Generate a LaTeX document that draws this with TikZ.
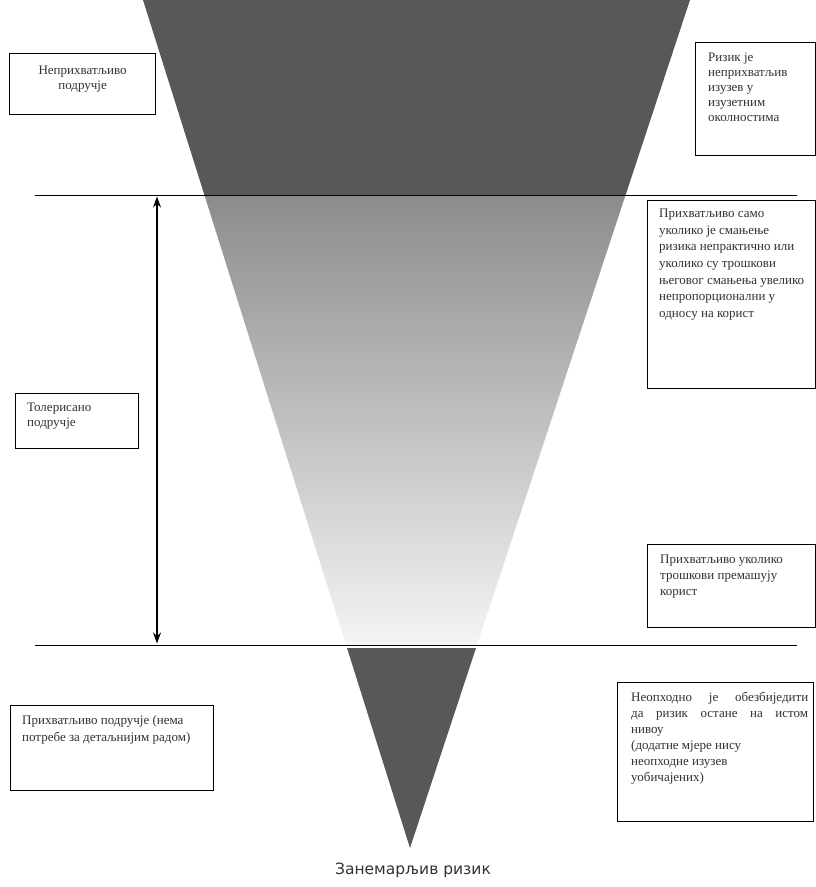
\documentclass[tikz,border=0pt]{standalone}
\usepackage{fontspec}
\setmainfont{Liberation Serif}
\newfontfamily\labelfont{DejaVu Sans}
\usetikzlibrary{arrows.meta,calc}
\definecolor{darkzone}{RGB}{88,88,88}
\definecolor{midtop}{RGB}{140,140,140}
\definecolor{midbot}{RGB}{244,244,244}
\definecolor{txtgray}{RGB}{50,50,50}
\tikzset{
  box/.style={draw=black, line width=1.2pt, fill=white, inner sep=0pt, anchor=north west},
  txt/.style={text=txtgray, font=\fontsize{13}{16}\selectfont, align=left, inner sep=0pt, anchor=north west},
  txtc/.style={text=txtgray, font=\fontsize{13}{15}\selectfont, align=center, inner sep=0pt, anchor=north},
  level/.style={draw=black, line width=1pt},
  dim/.style={draw=black, line width=1.2pt, {Stealth[length=11pt,width=8pt]}-{Stealth[length=11pt,width=8pt]}}
}
\begin{document}
\begin{tikzpicture}[x=1pt,y=-1pt]
\useasboundingbox (0,0) rectangle (816,887);
% zones of the inverted triangle
\fill[darkzone] (143,0) -- (690,0) -- (625.6,195) -- (204.4,195) -- cycle;
\shade[top color=midtop, bottom color=midbot] (204.4,195) -- (625.6,195) -- (477,645) -- (346,645) -- cycle;
\fill[darkzone] (347,648) -- (476,648) -- (410,848) -- cycle;
% level lines
\coordinate (l1a) at (35,195); \coordinate (l1b) at (797,195);
\coordinate (l2a) at (35,645); \coordinate (l2b) at (797,645);
\draw[level] (l1a) -- (l1b);
\draw[level] (l2a) -- (l2b);
% tolerable range arrow
\coordinate (arrtop) at (157,196.5);
\coordinate (arrbot) at (157,643.5);
\draw[dim] (arrtop) -- (arrbot);
% boxes
\node[box, minimum width=146pt, minimum height=61pt] (b1) at (9,53) {};
\node[txtc] (t1) at ($(b1.north)+(0,13)$) {Неприхватљиво\\подручје};

\node[box, minimum width=120pt, minimum height=113pt] (b2) at (695,42) {};
\node[txt, font=\fontsize{13}{15}\selectfont] (t2) at ($(b2.north west)+(13,11)$) {Ризик је\\неприхватљив\\изузев у\\изузетним\\околностима};

\node[box, minimum width=168pt, minimum height=188pt] (b3) at (647,200) {};
\node[txt, font=\fontsize{13}{16.6}\selectfont] (t3) at ($(b3.north west)+(12,9)$) {Прихватљиво само\\уколико је смањење\\ризика непрактично или\\уколико су трошкови\\његовог смањења увелико\\непропорционални у\\односу на корист};

\node[box, minimum width=123pt, minimum height=55pt] (b4) at (15,393) {};
\node[txt, font=\fontsize{13}{15}\selectfont] (t4) at ($(b4.north west)+(12,10)$) {Толерисано\\подручје};

\node[box, minimum width=168pt, minimum height=83pt] (b5) at (647,544) {};
\node[txt] (t5) at ($(b5.north west)+(13,11)$) {Прихватљиво уколико\\трошкови премашују\\корист};

\node[box, minimum width=203pt, minimum height=85pt] (b6) at (10,705) {};
\node[txt, font=\fontsize{13}{17}\selectfont] (t6) at ($(b6.north west)+(12,10)$) {Прихватљиво подручје (нема\\потребе за детаљнијим радом)};

\node[box, minimum width=196pt, minimum height=139pt] (b7) at (617,682) {};
\node[txt] (t7) at ($(b7.north west)+(14,10)$) {\makebox[177pt][s]{Неопходно је обезбиједити}\\\makebox[177pt][s]{да ризик остане на истом}\\нивоу\\(додатне мјере нису\\неопходне изузев\\уобичајених)};

% bottom label
\node[text=txtgray, font=\labelfont\fontsize{15.5}{18}\selectfont, inner sep=0pt] (neg) at (413,870) {Занемарљив ризик};
\end{tikzpicture}
\end{document}
